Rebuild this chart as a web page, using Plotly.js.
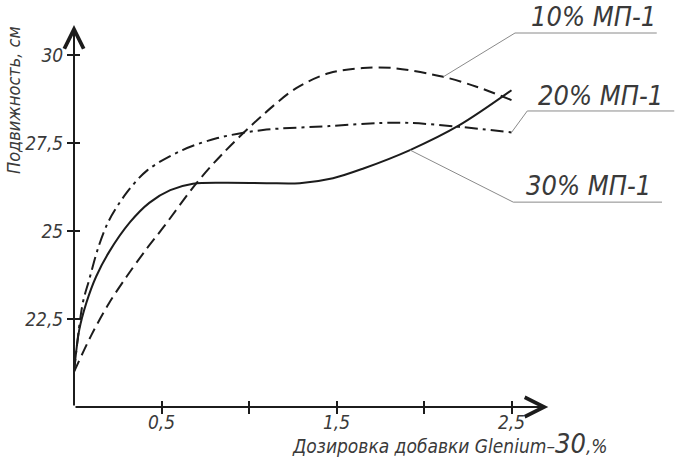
<!DOCTYPE html>
<html>
<head>
<meta charset="utf-8">
<script src="https://cdn.plot.ly/plotly-3.0.1.min.js"></script>
<style>html,body{margin:0;padding:0;background:#fff;}#chart{width:677px;height:465px;}</style>
</head>
<body>
<div id="chart"></div>
<script>
// ---- data ----
const seriesNames = ['10% МП-1', '20% МП-1', '30% МП-1'];

const x10 = [0, 0.1, 0.2, 0.3, 0.41, 0.51, 0.7, 0.85, 1.08, 1.27, 1.46, 1.65, 1.82, 2.11, 2.3, 2.5];
const y10 = [21, 22.05, 22.95, 23.7, 24.46, 25.1, 26.36, 27.2, 28.3, 29.06, 29.49, 29.63, 29.63, 29.38, 29.1, 28.72];

const x20 = [0, 0.05, 0.086, 0.14, 0.2, 0.3, 0.42, 0.62, 0.82, 1.08, 1.46, 1.75, 1.92, 2.2, 2.5];
const y20 = [21, 22.95, 23.6, 24.55, 25.3, 26.08, 26.73, 27.3, 27.64, 27.87, 27.98, 28.07, 28.07, 27.96, 27.8];

const x30 = [0, 0.03, 0.07, 0.126, 0.2, 0.32, 0.43, 0.55, 0.68, 0.85, 1.1, 1.29, 1.48, 1.65, 1.92, 2.2, 2.5];
const y30 = [21, 22.19, 22.95, 23.7, 24.4, 25.25, 25.8, 26.16, 26.34, 26.37, 26.36, 26.36, 26.5, 26.77, 27.3, 28.0, 29.0];

const xTickVals = [0.5, 1, 1.5, 2, 2.5];
const xTickText = ['0,5', '', '1,5', '', '2,5'];
const yTickVals = [22.5, 25, 27.5, 30];
const yTickText = ['22,5', '25', '27,5', '30'];

const xTitle = 'Дозировка добавки Glenium–<span style="font-size:27px">30</span>,%';
const yTitle = 'Подвижность, см';

// ---- styling ----
const FONT = 'Liberation Sans Narrow, DejaVu Sans Condensed, Arial Narrow, sans-serif';
const INK = '#1c1c1c';
const TXT = '#3a3a3a';
const LEAD = '#8a8a8a';

const W = 677, H = 465, ML = 74, MB = 58;
const PXX = 175, PXY = 35.2;       // pixels per unit
const xMin = 0, yMin = 20;
const xMax = xMin + (W - ML) / PXX;
const yMax = yMin + (H - MB) / PXY;
const xArrowEnd = 2.71, yArrowEnd = 30.85;

const traces = [
  {x: x10, y: y10, name: seriesNames[0], mode: 'lines',
   line: {color: INK, width: 2, dash: '12px,6px', shape: 'spline', smoothing: 0.9}},
  {x: x20, y: y20, name: seriesNames[1], mode: 'lines',
   line: {color: INK, width: 2, dash: '13px,5px,3px,5px', shape: 'spline', smoothing: 0.9}},
  {x: x30, y: y30, name: seriesNames[2], mode: 'lines',
   line: {color: INK, width: 2, shape: 'spline', smoothing: 0.9}},
  {x: [], y: [], xaxis: 'x2', yaxis: 'y2', showlegend: false, hoverinfo: 'skip'}
];

const tickFont = {family: FONT, size: 19, color: TXT, style: 'italic'};

// label placement: underline start x, underline y, underline end x, text position, curve point
const labels = [
  {text: seriesNames[0], ux0: 2.52, uy: 30.625, ux1: 3.33, tx: 2.6, ty: 31.08, px: x10[13], py: y10[13]},
  {text: seriesNames[1], ux0: 2.59, uy: 28.41, ux1: 3.43, tx: 2.64, ty: 28.86, px: x20[x20.length-1], py: y20[y20.length-1]},
  {text: seriesNames[2], ux0: 2.51, uy: 25.82, ux1: 3.36, tx: 2.57, ty: 26.28, px: x30[14], py: y30[14]}
];

const shapes = [];
const annotations = [];
labels.forEach(l => {
  shapes.push({type: 'line', xref: 'x', yref: 'y', x0: l.ux0, x1: l.ux1, y0: l.uy, y1: l.uy,
               line: {color: LEAD, width: 1}});
  shapes.push({type: 'line', xref: 'x', yref: 'y', x0: l.ux0, x1: l.px, y0: l.uy, y1: l.py,
               line: {color: LEAD, width: 1}});
  annotations.push({text: l.text, x: l.tx, y: l.ty, xref: 'x', yref: 'y', xanchor: 'left', yanchor: 'middle',
                    showarrow: false, font: {family: FONT, size: 27, color: TXT, style: 'italic'}});
});

// axis arrows
annotations.push({x: xArrowEnd, y: yMin, ax: xMin, ay: yMin, xref: 'x', yref: 'y', axref: 'x', ayref: 'y',
                  text: '', showarrow: true, arrowhead: 5, arrowsize: 1.9, arrowwidth: 2, arrowcolor: INK, standoff: 0, startstandoff: 0});
annotations.push({x: xMin, y: yArrowEnd, ax: xMin, ay: yMin, xref: 'x', yref: 'y', axref: 'x', ayref: 'y',
                  text: '', showarrow: true, arrowhead: 5, arrowsize: 1.9, arrowwidth: 2, arrowcolor: INK, standoff: 0, startstandoff: 0});

// axis titles
annotations.push({text: xTitle, xref: 'paper', yref: 'paper', x: (290 - ML) / (W - ML), y: -(443 - (H - MB)) / (H - MB),
                  xanchor: 'left', yanchor: 'middle', showarrow: false,
                  font: {family: FONT, size: 19, color: TXT, style: 'italic'}});
annotations.push({text: yTitle, xref: 'paper', yref: 'paper', x: (13 - ML) / (W - ML), y: 1 - 100 / (H - MB),
                  xanchor: 'center', yanchor: 'middle', textangle: -90, showarrow: false,
                  font: {family: FONT, size: 18, color: TXT, style: 'italic'}});

const layout = {
  width: W, height: H,
  margin: {l: ML, r: 0, t: 0, b: MB, pad: 0},
  paper_bgcolor: '#fff', plot_bgcolor: 'rgba(0,0,0,0)',
  showlegend: false,
  xaxis: {range: [xMin, xMax], showgrid: false, zeroline: false, showline: false,
          tickmode: 'array', tickvals: xTickVals, ticktext: xTickText, ticklabelstandoff: -8,
          ticks: 'outside', ticklen: 6, tickwidth: 2, tickcolor: INK, tickfont: tickFont, fixedrange: true},
  yaxis: {range: [yMin, yMax], showgrid: false, zeroline: false, showline: false,
          tickmode: 'array', tickvals: yTickVals, ticktext: yTickText,
          ticks: 'outside', ticklen: 6, tickwidth: 2, tickcolor: INK, tickfont: tickFont, fixedrange: true},
  xaxis2: {range: [xMin, xMax], overlaying: 'x', anchor: 'y2', showgrid: false, zeroline: false, showline: false,
           tickmode: 'array', tickvals: xTickVals, ticks: 'inside', ticklen: 6, tickwidth: 2, tickcolor: INK,
           showticklabels: false, fixedrange: true},
  yaxis2: {range: [yMin, yMax], overlaying: 'y', anchor: 'x2', side: 'left', showgrid: false, zeroline: false, showline: false,
           tickmode: 'array', tickvals: yTickVals, ticks: 'inside', ticklen: 6, tickwidth: 2, tickcolor: INK,
           showticklabels: false, fixedrange: true},
  shapes: shapes,
  annotations: annotations
};

Plotly.newPlot('chart', traces, layout, {staticPlot: true, displayModeBar: false});
</script>
</body>
</html>
